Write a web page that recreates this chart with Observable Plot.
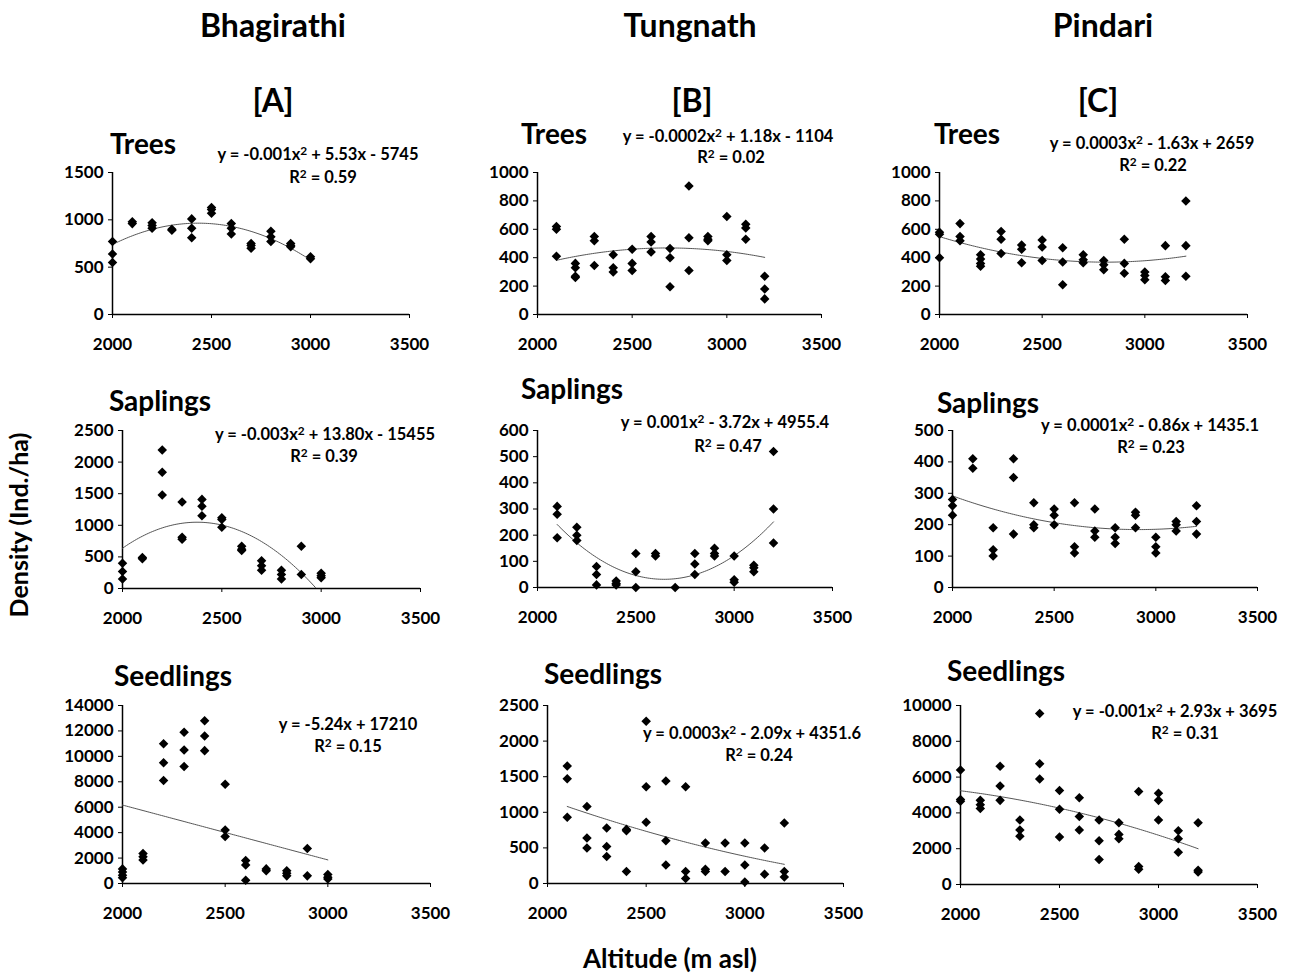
<!DOCTYPE html>
<html><head><meta charset="utf-8">
<script src="https://cdn.jsdelivr.net/npm/d3@7"></script>
<script src="https://cdn.jsdelivr.net/npm/@observablehq/plot@0.6"></script>
<style>
body{margin:0;background:#fff;}
#chart{position:relative;width:1301px;height:975px;font-family:Lato,"Open Sans",sans-serif;font-weight:bold;color:#000;overflow:hidden;}
.t{position:absolute;transform:translate(-50%,-50%);white-space:nowrap;line-height:1;}
.t .sup{font-size:0.72em;vertical-align:0.42em;line-height:0;}
.panel{position:absolute;}
</style></head><body><div id="chart"></div>
<script>
// ---------- DATA ----------
const sites = ["Bhagirathi", "Tungnath", "Pindari"];
const siteLetters = ["[A]", "[B]", "[C]"];
const layers = ["Trees", "Saplings", "Seedlings"];
const xTicks = [2000, 2500, 3000, 3500];
const yAxisTitle = "Density (Ind./ha)";
const xAxisTitle = "Altitude (m asl)";

const bhagAlt = [2000, 2100, 2200, 2300, 2400, 2500, 2600, 2700, 2800, 2900, 3000];
const tungAlt = [2100, 2200, 2300, 2400, 2500, 2600, 2700, 2800, 2900, 3000, 3100, 3200];
const pindAlt = [2000, 2100, 2200, 2300, 2400, 2500, 2600, 2700, 2800, 2900, 3000, 3100, 3200];

const bhagTrees = [[770,640,550],[980,960],[970,940,910],[900,890],[1010,910,810],[1130,1110,1070],[960,910,850],[750,730,700],[880,820,770],[750,730,715],[610,590]];
const tungTrees = [[620,600,410],[360,330,270,260],[550,520,345],[420,330,300],[460,360,310],[550,510,440],[465,400,195],[905,540,310],[550,530,520],[690,420,380],[635,610,530],[270,180,110]];
const pindTrees = [[580,565,400],[640,550,520],[420,390,360,340],[585,530,430],[490,460,365],[525,475,380],[470,370,210],[420,385,365],[380,350,315],[530,360,290],[300,275,245],[485,265,240],[800,485,270]];

const bhagSaplings = [[400,270,150],[490,470],[2190,1840,1480],[1370,810,780],[1410,1300,1150],[1120,1090,970],[670,620,600],[440,360,290],[290,220,150],[670,220],[240,200,170]];
const tungSaplings = [[310,280,190],[230,200,180],[80,50,10],[25,15,10],[130,60,0],[130,120],[0],[130,90,50],[150,130,120],[120,30,20],[85,75,60],[520,300,170]];
const pindSaplings = [[280,260,230],[410,380],[190,120,100],[410,350,170],[270,200,190],[250,230,200],[270,130,110],[250,180,160],[190,160,140],[240,230,190],[160,130,110],[210,200,180],[260,210,170]];

const bhagSeedlings = [[1150,900,650,450],[2350,2100,1850],[11000,9500,8100],[11900,10500,9200],[12800,11600,10450],[7800,4200,3700],[1800,1450,250],[1150,1000],[1000,800,600],[2750,600],[700,500,350]];
const tungSeedlings = [[1650,1470,930],[1080,640,500],[780,520,380],[760,740,170],[2280,1360,860],[1440,600,260],[1360,170,70],[570,200,170],[570,170],[570,260,20],[500,130],[850,170,90]];
const pindSeedlings = [[6400,4750,4650],[4700,4450,4250],[6600,5500,4700],[3600,3050,2700],[9550,6750,5900],[5250,4200,2650],[4850,3800,3050],[3600,2450,1400],[3450,2800,2550],[5200,1000,850],[5100,4700,3600],[3000,2550,1800],[3450,800,700]];

const treesTicksA = [0, 500, 1000, 1500];
const treesTicksB = [0, 200, 400, 600, 800, 1000];
const treesTicksC = [0, 200, 400, 600, 800, 1000];
const saplingsTicksA = [0, 500, 1000, 1500, 2000, 2500];
const saplingsTicksB = [0, 100, 200, 300, 400, 500, 600];
const saplingsTicksC = [0, 100, 200, 300, 400, 500];
const seedlingsTicksA = [0, 2000, 4000, 6000, 8000, 10000, 12000, 14000];
const seedlingsTicksB = [0, 500, 1000, 1500, 2000, 2500];
const seedlingsTicksC = [0, 2000, 4000, 6000, 8000, 10000];

const equations = [
  ["y = -0.001x² + 5.53x - 5745", "R² = 0.59"],
  ["y = -0.0002x² + 1.18x - 1104", "R² = 0.02"],
  ["y = 0.0003x² - 1.63x + 2659", "R² = 0.22"],
  ["y = -0.003x² + 13.80x - 15455", "R² = 0.39"],
  ["y = 0.001x² - 3.72x + 4955.4", "R² = 0.47"],
  ["y = 0.0001x² - 0.86x + 1435.1", "R² = 0.23"],
  ["y = -5.24x + 17210", "R² = 0.15"],
  ["y = 0.0003x² - 2.09x + 4351.6", "R² = 0.24"],
  ["y = -0.001x² + 2.93x + 3695", "R² = 0.31"]
];
const trendDegree = [2, 2, 2, 2, 2, 2, 1, 2, 2];

// ---------- LAYOUT ----------
const panels = [
  {alt: bhagAlt, vals: bhagTrees, ticks: treesTicksA, box: [112, 409, 172, 314], title: [143, 143], eq: [318, 154], r2: [323, 177]},
  {alt: tungAlt, vals: tungTrees, ticks: treesTicksB, box: [537, 821, 172, 314], title: [554, 133], eq: [728, 136], r2: [731, 157]},
  {alt: pindAlt, vals: pindTrees, ticks: treesTicksC, box: [939, 1247, 172, 314], title: [967, 133], eq: [1152, 143], r2: [1153, 165]},
  {alt: bhagAlt, vals: bhagSaplings, ticks: saplingsTicksA, box: [122, 420, 430, 588], title: [160, 400], eq: [325, 434], r2: [324, 456]},
  {alt: tungAlt, vals: tungSaplings, ticks: saplingsTicksB, box: [537, 832, 430, 587], title: [572, 388], eq: [725, 422], r2: [728, 446]},
  {alt: pindAlt, vals: pindSaplings, ticks: saplingsTicksC, box: [952, 1257, 430, 587], title: [988, 402], eq: [1150, 425], r2: [1151, 447]},
  {alt: bhagAlt, vals: bhagSeedlings, ticks: seedlingsTicksA, box: [122, 430, 705, 883], title: [173, 675], eq: [348, 724], r2: [348, 746]},
  {alt: tungAlt, vals: tungSeedlings, ticks: seedlingsTicksB, box: [547, 843, 705, 883], title: [603, 673], eq: [752, 733], r2: [759, 755]},
  {alt: pindAlt, vals: pindSeedlings, ticks: seedlingsTicksC, box: [960, 1257, 705, 884], title: [1006, 670], eq: [1175, 711], r2: [1185, 733]}
];

// least-squares polynomial trendline (as Excel computes it)
function polyfit(xs, ys, deg) {
  const mx = d3.mean(xs);
  const u = xs.map(x => (x - mx) / 1000);
  const n = deg + 1;
  const A = Array.from({length: n}, () => Array(n + 1).fill(0));
  for (let k = 0; k < u.length; k++) {
    for (let i = 0; i < n; i++) {
      for (let j = 0; j < n; j++) A[i][j] += Math.pow(u[k], i + j);
      A[i][n] += ys[k] * Math.pow(u[k], i);
    }
  }
  for (let i = 0; i < n; i++) {
    let p = i;
    for (let r = i + 1; r < n; r++) if (Math.abs(A[r][i]) > Math.abs(A[p][i])) p = r;
    [A[i], A[p]] = [A[p], A[i]];
    for (let r = 0; r < n; r++) {
      if (r === i) continue;
      const f = A[r][i] / A[i][i];
      for (let c = i; c <= n; c++) A[r][c] -= f * A[i][c];
    }
  }
  const coef = A.map((row, i) => row[n] / row[i]);
  return x => { const t = (x - mx) / 1000; return coef.reduce((s, c, i) => s + c * Math.pow(t, i), 0); };
}

const chart = document.getElementById("chart");
function addText(txt, cx, cy, size, extra) {
  const d = document.createElement("div");
  d.className = "t";
  // render "²" as a larger superscript 2 (still real text)
  txt.split("²").forEach((part, i) => {
    if (i > 0) {
      const s = document.createElement("span");
      s.className = "sup";
      s.textContent = "2";
      d.appendChild(s);
    }
    d.appendChild(document.createTextNode(part));
  });
  d.style.left = cx + "px";
  d.style.top = cy + "px";
  d.style.fontSize = size + "px";
  if (extra) d.style.transform = extra;
  chart.appendChild(d);
}

const mL = 70, mR = 30, mT = 12, mB = 48;
panels.forEach((p, idx) => {
  const pts = [];
  p.alt.forEach((a, i) => p.vals[i].forEach(v => pts.push({x: a, y: v})));
  const f = polyfit(pts.map(d => d.x), pts.map(d => d.y), trendDegree[idx]);
  const lo = d3.min(p.alt), hi = d3.max(p.alt);
  const trend = d3.range(lo, hi + 0.001, 10).map(x => ({x, y: f(x)}));
  const yMax = d3.max(p.ticks);
  const [x0, x1, yT, yB] = p.box;
  const svg = Plot.plot({
    width: (x1 - x0) + mL + mR,
    height: (yB - yT) + mT + mB,
    marginLeft: mL, marginRight: mR, marginTop: mT, marginBottom: mB,
    style: {fontFamily: "Lato, 'Open Sans', sans-serif", fontSize: "17px", fontWeight: "bold", color: "#000", background: "transparent", overflow: "visible"},
    x: {domain: [2000, 3500], ticks: xTicks, tickFormat: d => String(d), tickSize: 4, tickPadding: 19, label: null},
    y: {domain: [0, yMax], ticks: p.ticks, tickFormat: d => String(d), tickSize: 4, tickPadding: 5, label: null},
    marks: [
      Plot.ruleX([2000], {y1: 0, y2: yMax, stroke: "#000", strokeWidth: 1.5}),
      Plot.ruleY([0], {stroke: "#000", strokeWidth: 1.5}),
      Plot.line(trend, {x: "x", y: "y", stroke: "#555", strokeWidth: 1, clip: true}),
      Plot.dot(pts, {x: "x", y: "y", symbol: "square", rotate: 45, r: 3.8, fill: "#000", stroke: "none"})
    ]
  });
  svg.classList.add("panel");
  svg.style.left = (x0 - mL) + "px";
  svg.style.top = (yT - mT) + "px";
  chart.appendChild(svg);

  addText(layers[Math.floor(idx / 3)], p.title[0], p.title[1], 28);
  addText(equations[idx][0], p.eq[0], p.eq[1], 16.5);
  addText(equations[idx][1], p.r2[0], p.r2[1], 16.5);
});

const titleX = [273, 690, 1103];
const letterX = [273, 692, 1098];
sites.forEach((s, i) => {
  addText(s, titleX[i], 25, 32);
  addText(siteLetters[i], letterX[i], 100, 32);
});
addText(yAxisTitle, 18, 525, 25, "translate(-50%,-50%) rotate(-90deg)");
addText(xAxisTitle, 670, 958, 26);
</script></body></html>
